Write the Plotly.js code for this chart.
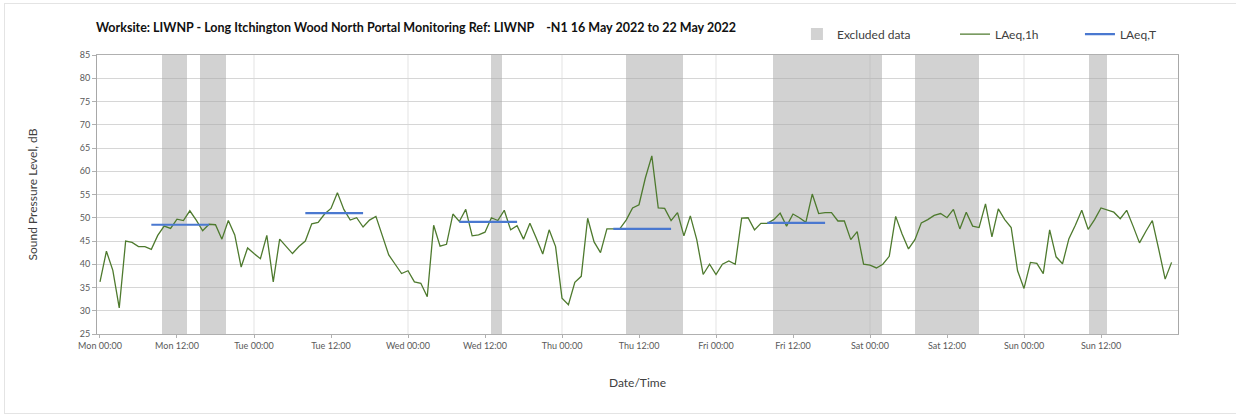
<!DOCTYPE html>
<html>
<head>
<meta charset="utf-8">
<script src="https://cdn.plot.ly/plotly-3.0.1.min.js"></script>
<style>
  html, body { margin: 0; padding: 0; background: #ffffff; }
  #frame { position: absolute; left: 4px; top: 3px; width: 1240px; height: 411px; border: 1px solid #e4e4e4; box-sizing: border-box; }
  #chart { position: absolute; left: 0; top: 0; width: 1236px; height: 416px; }
</style>
</head>
<body>
<div id="frame"></div>
<div id="chart"></div>
<script>
// ---- Data -----------------------------------------------------------
// Hourly LAeq,1h values from Mon 16 May 2022 00:00 to Sun 22 May 2022 23:00
const laeq1hMon = [36.2,42.8,38.7,30.6,45.0,44.7,43.8,43.8,43.2,46.2,48.2,47.7,49.7,49.4,51.5,49.5,47.2,48.6,48.5,45.4,49.4,46.3,39.4,43.5];
const laeq1hTue = [42.3,41.2,46.2,36.2,45.4,43.8,42.3,43.8,45.0,48.7,49.0,50.8,52.0,55.4,51.8,49.5,50.0,48.0,49.5,50.3,46.1,42.0,40.0,38.0];
const laeq1hWed = [38.6,36.2,35.9,33.0,48.4,43.9,44.3,50.8,49.2,51.8,46.1,46.3,46.9,50.0,49.4,51.6,47.4,48.3,45.4,48.8,45.6,42.2,47.4,43.8];
const laeq1hThu = [32.7,31.3,36.1,37.4,49.9,44.8,42.5,47.6,47.6,47.6,49.5,52.1,52.8,58.6,63.3,52.1,52.0,49.4,51.1,46.1,50.4,45.3,37.8,40.0];
const laeq1hFri = [37.8,40.0,40.7,40.0,49.9,50.0,47.4,48.8,48.8,49.6,51.0,48.2,50.8,50.0,49.0,55.1,50.9,51.1,51.1,49.3,49.3,45.3,47.0,40.0];
const laeq1hSat = [39.8,39.2,40.0,41.7,50.3,46.5,43.3,45.3,48.9,49.6,50.5,50.9,50.0,51.8,47.6,51.2,48.2,47.9,53.0,45.9,51.9,49.6,47.9,38.6];
const laeq1hSun = [34.8,40.4,40.2,38.0,47.4,41.6,40.1,45.5,48.4,51.6,47.5,49.6,52.1,51.6,51.2,49.8,51.6,48.2,44.6,47.1,49.4,43.2,36.8,40.4];
const measurementDays = ['2022-05-16','2022-05-17','2022-05-18','2022-05-19','2022-05-20','2022-05-21','2022-05-22'];

// LAeq,T (daytime period levels)
const laeqTFrom   = ['2022-05-16 08:00','2022-05-17 08:00','2022-05-18 08:00','2022-05-19 08:00','2022-05-20 08:00'];
const laeqTTo     = ['2022-05-16 17:00','2022-05-17 17:00','2022-05-18 17:00','2022-05-19 17:00','2022-05-20 17:00'];
const laeqTValues = [48.5, 51.0, 49.1, 47.6, 48.9];

// Excluded data periods
const excludedFrom = ['2022-05-16 09:40','2022-05-16 15:35','2022-05-18 12:55','2022-05-19 09:55','2022-05-20 08:55','2022-05-21 07:00','2022-05-22 10:05'];
const excludedTo   = ['2022-05-16 13:35','2022-05-16 19:35','2022-05-18 14:40','2022-05-19 18:50','2022-05-21 01:50','2022-05-21 17:00','2022-05-22 13:00'];

// Axis ticks
const tickVals  = ['2022-05-16 00:00','2022-05-16 12:00','2022-05-17 00:00','2022-05-17 12:00','2022-05-18 00:00','2022-05-18 12:00','2022-05-19 00:00','2022-05-19 12:00','2022-05-20 00:00','2022-05-20 12:00','2022-05-21 00:00','2022-05-21 12:00','2022-05-22 00:00','2022-05-22 12:00'];
const tickTexts = ['Mon 00:00','Mon 12:00','Tue 00:00','Tue 12:00','Wed 00:00','Wed 12:00','Thu 00:00','Thu 12:00','Fri 00:00','Fri 12:00','Sat 00:00','Sat 12:00','Sun 00:00','Sun 12:00'];
const dayGridLines = ['2022-05-17 00:00','2022-05-18 00:00','2022-05-19 00:00','2022-05-20 00:00','2022-05-21 00:00','2022-05-22 00:00'];
const yMin = 25, yMax = 85;

// ---- Build traces ---------------------------------------------------
const pad = n => (n < 10 ? '0' : '') + n;
const dayValues = [laeq1hMon, laeq1hTue, laeq1hWed, laeq1hThu, laeq1hFri, laeq1hSat, laeq1hSun];
const hourX = [], hourY = [];
dayValues.forEach((vals, d) => {
  vals.forEach((v, h) => { hourX.push(measurementDays[d] + ' ' + pad(h) + ':00'); hourY.push(v); });
});

const toMs = s => Date.parse(s.replace(' ', 'T') + ':00Z');
const exclWidth = excludedFrom.map((s, i) => toMs(excludedTo[i]) - toMs(s));

const tX = [], tY = [];
laeqTFrom.forEach((s, i) => { tX.push(s, laeqTTo[i], null); tY.push(laeqTValues[i], laeqTValues[i], null); });

const FONT = 'Lato, "Open Sans", "Liberation Sans", sans-serif';

const traces = [
  {
    type: 'bar', name: 'Excluded data', legend: 'legend',
    x: excludedFrom, y: excludedFrom.map(() => yMax - yMin), base: yMin,
    width: exclWidth, offset: 0,
    marker: { color: 'rgba(165,165,165,0.5)', line: { width: 0 } },
    hoverinfo: 'skip'
  },
  {
    type: 'scatter', mode: 'lines', name: 'LAeq,1h', legend: 'legend2',
    x: hourX, y: hourY,
    line: { color: '#4e7a2e', width: 1.3 }
  },
  {
    type: 'scatter', mode: 'lines', name: 'LAeq,T', legend: 'legend3',
    x: tX, y: tY, connectgaps: false,
    line: { color: '#4a78d0', width: 2.2 }
  }
];

const shapes = dayGridLines.map(d => ({
  type: 'line', xref: 'x', yref: 'paper', x0: d, x1: d, y0: 0, y1: 1,
  line: { color: '#e3e3e3', width: 1 }, layer: 'below'
}));

const legendCommon = {
  orientation: 'h', yanchor: 'middle', xanchor: 'left', y: 1.075,
  font: { family: FONT, size: 12, color: '#404040' },
  bgcolor: 'rgba(0,0,0,0)', borderwidth: 0, itemwidth: 30
};

const layout = {
  width: 1236, height: 416,
  paper_bgcolor: 'rgba(0,0,0,0)', plot_bgcolor: '#ffffff',
  margin: { l: 97, r: 58, t: 55, b: 82 },
  font: { family: FONT, color: '#595959' },
  title: {
    text: '<b>Worksite: LIWNP - Long Itchington Wood North Portal Monitoring Ref: LIWNP\u00a0\u00a0\u00a0\u00a0-N1 16 May 2022 to 22 May 2022</b>',
    font: { family: FONT, size: 12.5, color: '#111111' },
    x: 96 / 1236, xref: 'container', xanchor: 'left',
    y: 1 - 28 / 416, yref: 'container', yanchor: 'middle'
  },
  showlegend: true,
  legend:  Object.assign({}, legendCommon, { x: 0.6475 }),
  legend2: Object.assign({}, legendCommon, { x: 0.7937 }),
  legend3: Object.assign({}, legendCommon, { x: 0.9093 }),
  bargap: 0,
  xaxis: {
    type: 'date',
    range: ['2022-05-15 23:32', '2022-05-23 00:00'],
    tickmode: 'array', tickvals: tickVals, ticktext: tickTexts,
    tickfont: { family: FONT, size: 9, color: '#595959' },
    ticks: 'outside', ticklen: 3, tickcolor: '#b0b0b0',
    showgrid: false, zeroline: false,
    showline: true, linecolor: '#b0b0b0', linewidth: 1, mirror: true,
    title: { text: 'Date/Time', font: { family: FONT, size: 12, color: '#404040' }, standoff: 28 }
  },
  yaxis: {
    range: [yMin, yMax], dtick: 5, tick0: 25,
    tickfont: { family: FONT, size: 9, color: '#595959' },
    ticks: 'outside', ticklen: 4, tickcolor: '#b0b0b0',
    showgrid: true, gridcolor: '#d6d6d6', gridwidth: 1, zeroline: false,
    showline: true, linecolor: '#a8a8a8', linewidth: 1, mirror: true,
    title: { text: 'Sound Pressure Level, dB', font: { family: FONT, size: 12, color: '#404040' }, standoff: 39 }
  },
  shapes: shapes
};

Plotly.newPlot('chart', traces, layout, { displayModeBar: false, staticPlot: true });
</script>
</body>
</html>
